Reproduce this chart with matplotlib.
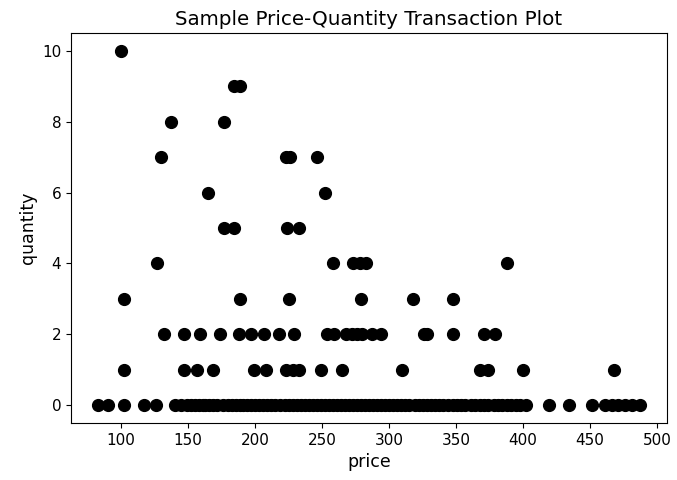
import numpy as np
import matplotlib
matplotlib.use('Agg')
from matplotlib import pyplot as plt

# prices observed at each quantity level
q10_prices = [100]
q9_prices = [184, 189]
q8_prices = [137, 177]
q7_prices = [130, 223, 226, 246]
q6_prices = [165, 252]
q5_prices = [177, 184, 224, 233]
q4_prices = [127, 258, 273, 278, 283, 388]
q3_prices = [102, 189, 225, 279, 318, 348]
q2_prices = [132, 147, 159, 174, 188, 197, 207, 218, 229, 254, 259, 268, 272,
             276, 280, 287, 294, 326, 328, 348, 371, 379]
q1_prices = [102, 147, 157, 169, 199, 208, 223, 228, 233, 249, 265, 310, 368,
             374, 400, 468]
q0_prices = [83, 90, 102, 117, 126, 140, 145, 149, 152, 155, 158, 161, 163, 166,
             169, 172, 176, 180, 183, 186, 189, 191, 194, 197, 200, 203, 206,
             209, 212, 215, 219, 222, 225, 228, 231, 234, 237, 240, 243, 246,
             249, 252, 255, 258, 261, 264, 267, 270, 273, 276, 279, 282, 285,
             288, 291, 294, 297, 300, 303, 306, 309, 312, 315, 319, 322, 325,
             328, 331, 334, 337, 340, 344, 348, 351, 354, 357, 361, 364, 368,
             371, 374, 378, 381, 384, 388, 391, 395, 398, 402, 419, 434, 451,
             461, 466, 471, 476, 481, 487]

levels = {10: q10_prices, 9: q9_prices, 8: q8_prices, 7: q7_prices,
          6: q6_prices, 5: q5_prices, 4: q4_prices, 3: q3_prices,
          2: q2_prices, 1: q1_prices, 0: q0_prices}

price = []
quantity = []
for q, plist in levels.items():
    price += plist
    quantity += [q] * len(plist)

fig = plt.figure(figsize=(6.77, 4.8), dpi=100)
ax = fig.add_axes([0.105, 0.119, 0.88, 0.812])
ax.scatter(price, quantity, s=72, color='black')
ax.set_xticks([100, 150, 200, 250, 300, 350, 400, 450, 500])
ax.set_yticks([0, 2, 4, 6, 8, 10])
ax.tick_params(labelsize=11)
ax.set_xlabel('price', fontsize=12.5)
ax.set_ylabel('quantity', fontsize=12.5)
ax.set_title('Sample Price-Quantity Transaction Plot', fontsize=14.3)

fig.savefig('out.png', dpi=100)
